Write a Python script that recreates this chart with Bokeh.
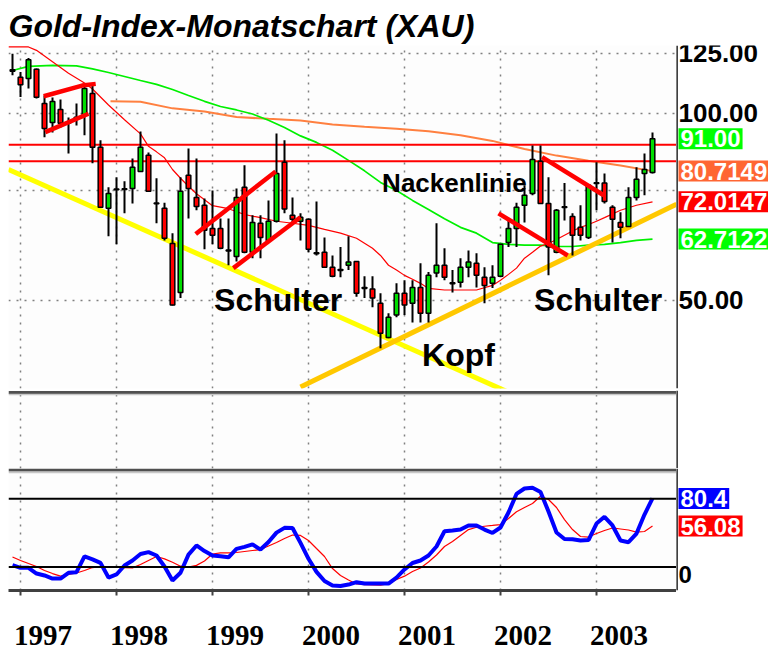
import numpy as np
from bokeh.plotting import figure
from bokeh.models import (Range1d, FixedTicker, LinearAxis, Span,
                          ColumnDataSource, CustomJSTickFormatter)
from bokeh.layouts import column, row
from bokeh.embed import file_html
from bokeh.resources import INLINE
from bokeh.core.properties import value

FONT = "Liberation Sans"
NARROW = "Liberation Sans Narrow"

# ---------------- data (monthly, index 0 = Dec 1996 ... 80 = Aug 2003) ----------------
open_ = [117.6, 114.4, 113.9, 117.8, 103.8, 96.7, 101.5, 96.9, 98.6, 99.3,
         107.7, 88.2, 70.3, 75.5, 75.4, 75.7, 80.6, 85.6, 71.7, 70.3,
         61.7, 51.4, 79.5, 73.2, 71.1, 65.2, 65.2, 60.2, 58.8, 76.0,
         59.7, 66.5, 62.4, 67.0, 83.4, 68.5, 67.0, 67.5, 59.6, 59.7,
         56.5, 56.0, 56.9, 57.7, 52.4, 52.1, 49.4, 43.5, 47.3, 51.3,
         49.4, 52.4, 47.6, 55.3, 56.9, 53.3, 53.4, 56.5, 57.3, 54.4,
         53.2, 54.6, 61.9, 65.2, 71.1, 74.3, 83.7, 71.6, 59.7, 70.7,
         68.2, 65.5, 63.1, 77.3, 77.2, 70.6, 66.7, 65.7, 73.2, 80.0, 80.3]
high = [124.8, 116.6, 122.9, 118.2, 106.9, 106.1, 105.3, 98.5, 103.8, 111.0,
        111.0, 90.5, 76.0, 78.9, 77.7, 84.6, 93.5, 86.5, 78.6, 71.8,
        64.1, 78.9, 87.8, 84.6, 72.9, 75.1, 67.7, 67.7, 75.7, 82.5,
        68.5, 68.5, 72.4, 92.8, 90.5, 73.2, 69.0, 67.7, 72.1, 63.1,
        59.0, 60.9, 63.4, 57.7, 54.6, 54.6, 51.3, 47.6, 53.2, 53.8,
        53.8, 57.3, 55.5, 66.5, 60.6, 55.9, 58.4, 60.1, 59.5, 56.5,
        56.9, 61.5, 67.7, 71.8, 76.6, 88.8, 88.8, 78.9, 70.1, 77.2,
        69.0, 71.1, 76.6, 83.4, 80.0, 71.1, 69.3, 76.0, 81.9, 86.2, 93.2]
low = [115.2, 106.3, 109.7, 105.7, 91.5, 93.2, 94.9, 86.2, 95.6, 92.2,
       83.1, 70.4, 63.4, 61.5, 69.0, 71.6, 80.6, 74.9, 66.5, 62.4,
       49.0, 50.4, 67.7, 69.8, 60.4, 61.5, 60.4, 56.9, 57.7, 59.5,
       58.4, 58.4, 61.9, 66.7, 69.0, 66.5, 62.4, 59.7, 59.0, 56.5,
       54.4, 54.4, 55.9, 50.6, 50.4, 48.7, 41.8, 43.4, 46.9, 47.3,
       46.0, 46.0, 46.0, 54.4, 53.8, 51.4, 52.4, 54.4, 52.4, 49.4,
       52.3, 54.4, 60.9, 60.9, 66.7, 73.8, 71.6, 54.8, 59.5, 67.2,
       59.0, 62.4, 62.7, 69.8, 71.6, 61.9, 62.9, 65.7, 72.4, 73.8, 80.0]
close = [117.0, 111.2, 122.1, 106.2, 94.6, 104.5, 96.4, 96.5, 98.4, 109.7,
         88.2, 70.6, 74.3, 75.3, 75.6, 81.9, 88.2, 74.9, 71.5, 62.9,
         49.1, 74.9, 75.7, 70.8, 64.8, 63.6, 60.6, 60.0, 73.2, 59.7,
         66.7, 63.1, 67.0, 80.0, 70.1, 67.5, 68.0, 60.4, 59.4, 56.5,
         54.6, 55.8, 57.6, 51.3, 52.2, 50.4, 44.2, 46.9, 51.3, 49.1,
         52.4, 47.6, 54.8, 56.9, 54.4, 53.1, 56.5, 57.6, 54.8, 52.8,
         54.4, 61.5, 65.2, 70.6, 73.8, 84.3, 71.6, 60.9, 69.8, 70.5,
         63.6, 63.6, 76.6, 77.1, 72.1, 67.5, 65.5, 73.2, 78.3, 81.2, 91.0]
month = list(range(len(close)))

# moving averages, read at sampled months
red_ma_m = [-0.5, 2, 3, 5, 7, 9, 10, 12, 14, 16, 17, 18, 19, 20, 21, 22, 23, 25, 27,
            29, 31, 33, 35, 37, 39, 41, 43, 45, 46, 47, 48, 49, 50, 51, 52, 54, 56,
            58, 60, 61, 62, 63, 64, 65, 66, 67, 68, 69, 70, 71, 72, 73, 74, 76, 78, 80]
red_ma_v = [128.0, 128.0, 126.4, 121.2, 116.1, 112.0, 109.5, 103.2, 97.7, 92.7, 88.5,
            86.7, 84.8, 81.2, 78.6, 76.3, 74.2, 71.0, 70.2,
            68.7, 67.9, 67.0, 66.5, 66.0, 65.0, 64.1, 62.9, 60.6, 59.0, 56.9, 55.9,
            54.8, 54.0, 53.2, 52.2, 51.9, 51.9, 51.9, 52.8, 53.8, 55.0, 56.3, 58.4,
            59.7, 61.1, 61.7, 62.6, 63.6, 64.6, 65.5, 66.2, 67.0, 67.9, 69.8, 71.1, 72.0147]
green_ma_m = [0, 2, 5, 8, 10, 12, 14, 16, 18, 20, 22, 24, 26, 28, 30, 32, 34, 36, 38,
              40, 42, 44, 46, 48, 50, 52, 54, 56, 58, 60, 62, 64, 66, 68, 70, 72, 74,
              76, 78, 80]
green_ma_v = [117.3, 119.1, 119.5, 119.3, 118.0, 116.4, 114.7, 113.0, 111.4, 109.3,
              106.9, 104.6, 102.6, 101.3, 99.8, 97.5, 94.9, 92.0, 89.8, 87.2, 84.0,
              80.8, 77.4, 75.1, 72.4, 70.0, 67.6, 65.5, 64.1, 61.9, 61.5, 61.3, 61.3,
              61.0, 61.0, 61.3, 61.5, 61.9, 62.4, 62.7122]
orange_ma_m = [12.25, 16, 20, 24, 28, 32, 36, 40, 44, 48, 52, 56, 60, 64, 68, 72, 76, 80]
orange_ma_v = [104.6, 104.4, 101.9, 100.7, 98.7, 98.0, 97.4, 96.0, 95.2, 94.5, 93.6,
               92.2, 90.3, 87.6, 85.5, 83.9, 82.4, 80.7149]

# drawn trend lines and levels (month, price)
down_trend_m, down_trend_v = [-0.5, 62.0], [81.2, 35.5]
up_trend_m, up_trend_v = [36.0, 83.0], [36.2, 71.4]
neck_levels = [89.0, 83.7]
pattern_m = [[3.9, 8.7, 10.4], [4.1, 9.5], [22.9, 32.9], [27.6, 36.0], [60.75, 69.4], [66.2, 73.9]]
pattern_v = [[106.6, 110.9, 111.6], [93.3, 99.9], [63.9, 80.6], [56.3, 68.0], [69.0, 59.0], [85.0, 73.8]]

notes = ["Nackenlinie", "Schulter", "Schulter", "Kopf"]
note_m = [46.2, 25.2, 65.2, 51.2]
note_v = [77.1, 50.1, 50.1, 40.8]
note_size = ["26px", "32px", "32px", "32px"]

price_ticks = [125, 100, 50]
price_tick_labels = ["125.00", "100.00", "50.00"]
price_grid = [50, 75, 100, 125]
year_labels = ["1997", "1998", "1999", "2000", "2001", "2002", "2003"]
year_start = [1, 13, 25, 37, 49, 61, 73]

# last values shown in boxes
price_tags = ["91.00", "80.7149", "72.0147", "62.7122"]
price_tag_v = [91.0, 80.7149, 72.0147, 62.7122]
price_tag_col = ["#00FF00", "#FF6633", "#FF0000", "#00FF00"]

# oscillator (blue fast line, red slow line)
osc_fast = [21.8, 19.3, 19.3, 14.3, 12.6, 9.9, 9.9, 15.0, 15.5, 29.4,
            26.8, 23.7, 10.8, 13.5, 21.4, 25.8, 31.5, 33.2, 30.2, 20.5,
            8.2, 15.0, 31.0, 39.0, 34.1, 30.2, 29.6, 28.6, 36.0, 37.8,
            40.0, 35.4, 42.0, 50.3, 54.5, 54.4, 41.3, 27.3, 15.8, 7.7,
            3.8, 3.4, 4.6, 6.7, 5.5, 5.5, 5.5, 5.5, 10.8, 17.9,
            23.6, 25.8, 30.2, 38.1, 51.5, 52.2, 53.0, 56.6, 56.6, 53.0,
            50.0, 54.8, 68.0, 84.3, 89.1, 89.7, 86.0, 68.9, 50.4, 44.7,
            44.5, 43.4, 43.8, 58.3, 64.2, 56.6, 43.4, 41.9, 49.5, 66.2, 80.4]
osc_slow = [28.8, 25.8, 23.1, 20.5, 17.0, 14.3, 12.0, 13.5, 14.8, 17.0,
            19.6, 20.5, 20.2, 19.9, 19.6, 19.3, 22.3, 25.8, 29.3, 27.2,
            24.3, 20.8, 20.1, 21.5, 25.3, 31.5, 32.5, 32.5, 32.8, 33.7,
            34.6, 35.4, 38.5, 41.6, 45.1, 48.2, 47.8, 43.4, 36.3, 29.3,
            18.7, 12.6, 8.6, 5.1, 4.5, 4.3, 4.2, 5.5, 9.1, 12.0,
            16.1, 19.2, 24.4, 30.6, 38.1, 42.5, 47.8, 53.0, 55.0, 55.9,
            56.6, 57.4, 62.7, 68.6, 72.4, 75.9, 82.3, 79.4, 72.4, 61.8,
            53.0, 46.9, 46.4, 49.5, 52.2, 54.4, 53.5, 52.6, 50.8, 51.3, 56.08]
osc_levels = [80, 20]
osc_tags = ["80.4", "56.08"]
osc_tag_v = [80.4, 56.08]
osc_tag_col = ["#0000FF", "#FF0000"]
osc_tick_labels = ["0"]
osc_tick_v = [13.5]

# ---------------- helpers ----------------
xr = Range1d(-0.5, 83.0)


def base_fig(**kw):
    f = figure(frame_width=668, x_range=xr, toolbar_location=None, output_backend="svg",
               min_border_left=8, min_border_right=0, y_axis_location=None, **kw)
    f.outline_line_color = None
    f.background_fill_color = "#FDFDFD"
    f.border_fill_color = "white"
    f.xgrid.ticker = FixedTicker(ticks=year_start)
    f.xgrid.grid_line_color = "#808080"
    f.xgrid.grid_line_dash = "2 6"
    f.xgrid.grid_line_width = 1.5
    f.ygrid.grid_line_color = None
    return f


def side_fig(frame_height, y_range, y_axis_type="linear", top=0, bottom=0):
    s = figure(frame_width=92, frame_height=frame_height, x_range=Range1d(0, 92),
               y_range=y_range, y_axis_type=y_axis_type, x_axis_location=None,
               y_axis_location=None, toolbar_location=None, output_backend="svg",
               min_border_left=0, min_border_right=0, min_border_top=top,
               min_border_bottom=bottom)
    s.outline_line_color = None
    s.background_fill_color = "white"
    s.border_fill_color = "white"
    s.xgrid.grid_line_color = None
    s.ygrid.grid_line_color = None
    s.add_layout(Span(location=0.0, dimension="height", line_color="black", line_width=2.5))
    return s


def side_labels(s, ys, texts, colors=None, size="24px"):
    kw = dict(x=2, y=ys, text=texts, text_font=value(FONT), text_font_style="bold",
              text_font_size=value(size), text_baseline="middle", text_align="left")
    if colors is None:
        s.text(text_color="black", **kw)
    else:
        s.text(text_color="white", background_fill_color=colors, padding=2, **kw)


# ---------------- main price panel ----------------
p = base_fig(frame_height=343, y_axis_type="log", y_range=Range1d(36.0, 128.7),
             x_axis_location=None, min_border_top=45, min_border_bottom=2,
             title="Gold-Index-Monatschart (XAU)")
p.title.text_font = FONT
p.title.text_font_size = "32px"
p.title.text_font_style = "bold italic"
p.title.text_color = "black"
p.title.align = "left"
p.title.standoff = 3
p.ygrid.ticker = FixedTicker(ticks=price_grid)
p.ygrid.grid_line_color = "#808080"
p.ygrid.grid_line_dash = "2 6"
p.ygrid.grid_line_width = 1.5

p.line(orange_ma_m, orange_ma_v, line_color="#FF8040", line_width=2)
p.line(green_ma_m, green_ma_v, line_color="#00F000", line_width=1.7)
p.line(red_ma_m, red_ma_v, line_color="#FF0000", line_width=1.2)
for lv in neck_levels:
    p.line([-0.5, 83.0], [lv, lv], line_color="#FF0000", line_width=2)
p.line(down_trend_m, down_trend_v, line_color="#FFFF00", line_width=5)
p.line(up_trend_m, up_trend_v, line_color="#FFC800", line_width=5)

up = [c >= o for o, c in zip(open_, close)]
src = ColumnDataSource(dict(
    x=month, high=high, low=low,
    top=[max(o, c) for o, c in zip(open_, close)],
    bottom=[min(o, c) for o, c in zip(open_, close)],
    color=["#00DD00" if u else "#FF0000" for u in up]))
p.segment(x0="x", y0="low", x1="x", y1="high", source=src, line_color="black", line_width=2)
p.vbar(x="x", width=0.58, top="top", bottom="bottom", source=src,
       fill_color="color", line_color="black", line_width=1.5)

for mm, vv in zip(pattern_m, pattern_v):
    p.line(mm, vv, line_color="#FF0000", line_width=4.5)

tsrc = ColumnDataSource(dict(x=note_m, y=note_v, t=notes, s=note_size))
p.text(x="x", y="y", text="t", source=tsrc, text_font=value(FONT), text_font_style="bold",
       text_font_size="s", text_color="black", text_align="left", text_baseline="alphabetic")

sp = side_fig(343, p.y_range, "log", top=45, bottom=2)
side_labels(sp, price_ticks, price_tick_labels, size="26px")
side_labels(sp, price_tag_v, price_tags, price_tag_col)

# ---------------- empty middle panel ----------------
pm = base_fig(frame_height=78, y_range=Range1d(0, 1), x_axis_location=None,
              min_border_top=0, min_border_bottom=0)
pm.add_layout(Span(location=0.975, dimension="width", line_color="#505050", line_width=3))
pm.add_layout(Span(location=0.95, dimension="width", line_color="#C8C8C8", line_width=1.5))
pm.line([0, 1], [-5, -5], line_alpha=0)
sm = side_fig(78, Range1d(0, 1))

# ---------------- oscillator panel ----------------
pb = base_fig(frame_height=122, y_range=Range1d(-0.6, 106.7), x_axis_location="below",
              min_border_top=0, min_border_bottom=64)
pb.add_layout(Span(location=105.4, dimension="width", line_color="#505050", line_width=3))
pb.add_layout(Span(location=103.2, dimension="width", line_color="#C8C8C8", line_width=1.5))
for lv in osc_levels:
    pb.add_layout(Span(location=lv, dimension="width", line_color="black", line_width=2))
pb.line(month, osc_slow, line_color="#FF0000", line_width=1.2)
pb.line(month, osc_fast, line_color="#0000FF", line_width=4)

xa = pb.xaxis[0]
xa.ticker = FixedTicker(ticks=year_start)
xa.formatter = CustomJSTickFormatter(code="return ''")
xa.axis_line_color = "#404040"
xa.axis_line_width = 3
xa.major_tick_line_color = "#404040"
xa.major_tick_line_width = 2
xa.major_tick_out = 5
xa.major_tick_in = 0
xa.minor_tick_line_color = None
xa.major_label_text_font_size = "1px"
xa.major_label_standoff = 0

label_pos = [s + 2.8 for s in year_start]
xa2 = LinearAxis(ticker=FixedTicker(ticks=label_pos),
                 formatter=CustomJSTickFormatter(
                     args=dict(pos=label_pos, labels=year_labels),
                     code="""let b = 0;
for (let i = 0; i < pos.length; i++) { if (Math.abs(pos[i] - tick) < Math.abs(pos[b] - tick)) b = i; }
return labels[b];"""))
xa2.axis_line_color = None
xa2.major_tick_line_color = None
xa2.minor_tick_line_color = None
xa2.major_tick_out = 0
xa2.major_tick_in = 0
xa2.major_label_standoff = 30
xa2.major_label_text_font = NARROW
xa2.major_label_text_font_style = "bold"
xa2.major_label_text_font_size = "29px"
xa2.major_label_text_color = "black"
pb.add_layout(xa2, "below")

sb = side_fig(122, pb.y_range, top=0, bottom=64)
side_labels(sb, osc_tick_v, osc_tick_labels)
side_labels(sb, osc_tag_v, osc_tags, osc_tag_col)

layout = column(row(p, sp, spacing=0), row(pm, sm, spacing=0), row(pb, sb, spacing=0), spacing=0)
open("out.html", "w").write(file_html(layout, INLINE))
